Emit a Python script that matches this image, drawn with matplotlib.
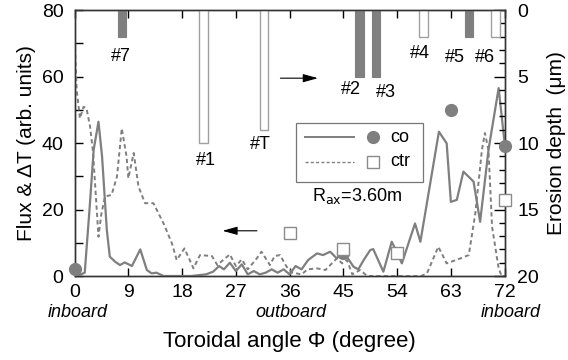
import numpy as np
import matplotlib
matplotlib.use("Agg")
import matplotlib.pyplot as plt

plt.rcParams['font.family'] = ['Liberation Sans', 'DejaVu Sans']

# --- data ---
# flux curves (left axis), toroidal angle in degrees
co_angle = [0, 0.8, 1.7, 2.5, 3.2, 4.0, 4.6, 5.4, 5.9, 6.8, 7.6, 8.4, 9.6, 11.0, 12.1,
            12.9, 13.7, 14.9, 16, 18, 19.5, 21, 22, 23.2, 24.2, 25, 26, 27, 28, 29,
            30, 31, 32, 33, 34, 35, 36, 37, 38, 39.1, 40.6, 41.6, 42.8, 43.9, 45.0,
            46.7, 47.5, 48.4, 49.5, 50.0, 51.7, 53.1, 53.8, 54.8, 57.0, 57.9, 61.0,
            62.3, 63.0, 64.0, 65.1, 66.8, 67.9, 69.3, 71.0, 72]
co_flux = [0, 0.3, 1, 20, 38, 46.4, 36, 13.8, 5.8, 4.3, 3.3, 4.1, 3, 8, 1.8,
           0.8, 1.0, 0, 0, 0, 0, 0.3, 0.5, 1.3, 3, 2, 4, 1.5, 3.5, 0.5,
           1.5, 0.5, 1, 2, 1, 2, 0.5, 3, 2, 4.8, 6.8, 6.3, 7.3, 5.3, 7.3,
           2.8, 2, 4.8, 7.8, 8.1, 1.3, 10.3, 7.8, 3.8, 15.8, 10.3, 43.4,
           39.9, 22.3, 22.9, 31.4, 28.4, 16.3, 37.9, 56.5, 40]

ctr_angle = [0, 0.1, 0.35, 0.9, 1.5, 2.0, 2.6, 3.1, 4.0, 4.5, 5.1, 6.2, 7.1, 7.9, 8.7,
             9.0, 9.9, 10.7, 11.8, 13.2, 14.9, 16.3, 17.1, 18.4, 19.9, 21.0, 23.0,
             23.9, 25, 26, 27, 28, 29, 30.5, 31.3, 32.7, 33.5, 34.4, 35.5, 36.5, 38,
             39, 40.6, 42, 43.9, 44.8, 45.6, 46.5, 47.8, 49, 58, 59.0, 60.9, 62.3,
             64.6, 66.0, 67.1, 68.2, 68.7, 69.3, 69.9, 71.0, 71.5, 72]
ctr_flux = [75.5, 68, 56, 47.4, 50.9, 50.4, 44.9, 37, 11.8, 18.9, 23.9, 24.4, 29.9, 44.4, 36,
            29.4, 37, 26.9, 21.9, 21.9, 15.8, 9.8, 4.8, 8.3, 2.3, 6.3, 6.0,
            3.3, 5, 6.5, 3, 5, 2, 5.3, 7.3, 3.3, 6, 6.3, 2.8, 1, 0.5,
            2, 2.3, 1.8, 5.3, 3.8, 4.8, 0.5, 1.8, 0, 0, 0.8, 8.8, 3.8,
            5.3, 6.3, 18.9, 37.9, 43, 37.9, 14.8, 2.3, 0, 0]

# erosion depth (right axis), measured tiles
bar_co_angle = [7.9, 47.7, 50.5, 66.1]
bar_co_depth = [2, 5, 5, 2]
bar_co_names = ['#7', '#2', '#3', '#5']
bar_ctr_angle = [21.6, 31.7, 58.4, 70.5]
bar_ctr_depth = [10, 9, 2, 2]
bar_ctr_names = ['#1', '#T', '#4', '#6']

# erosion points (right axis)
pt_co_angle = [0, 45, 63, 72]
pt_co_depth = [19.5, 18.3, 7.5, 10.2]
pt_ctr_angle = [36, 45, 54, 72]
pt_ctr_depth = [16.8, 18.0, 18.25, 14.3]

x_ticks = [0, 9, 18, 27, 36, 45, 54, 63, 72]

# --- layout ---
gray = '#7f7f7f'
fig = plt.figure(figsize=(5.68, 3.6), dpi=100)
ax = fig.add_axes([0.1313, 0.2333, 0.7571, 0.7389])
ax2 = ax.twinx()

ax.plot(co_angle, co_flux, color=gray, lw=1.6, zorder=3)
ax.plot(ctr_angle, ctr_flux, color=gray, lw=1.4, ls=(0, (2.2, 1.6)), zorder=3)
ax.set_xlim(0, 72)
ax.set_ylim(0, 80)
ax.set_xticks(x_ticks)
ax.set_yticks([0, 20, 40, 60, 80])
ax.set_yticks([10, 30, 50, 70], minor=True)
ax.tick_params(axis='both', which='both', direction='in', length=6, width=1,
               labelsize=14, top=True)
ax.tick_params(axis='x', pad=6)
ax.tick_params(axis='y', pad=8)
ax.set_ylabel('Flux & \u0394T (arb. units)', fontsize=15, labelpad=4)
ax.set_xlabel('Toroidal angle \u03a6 (degree)', fontsize=16, labelpad=21)

# bars hang from the top (erosion depth axis inverted)
ax2.bar(bar_co_angle, bar_co_depth, width=1.35, color=gray, edgecolor=gray, lw=0.8, zorder=2)
ax2.bar(bar_ctr_angle, bar_ctr_depth, width=1.45, color='white', edgecolor='#a0a0a0',
        lw=1.0, zorder=2)
label_xy = {'#7': (7.8, 3.5), '#1': (22.0, 11.35), '#T': (31.1, 10.1), '#2': (46.2, 6.0),
            '#3': (52.2, 6.2), '#4': (57.8, 3.25), '#5': (63.7, 3.6), '#6': (68.7, 3.6)}
for name in bar_co_names + bar_ctr_names:
    x, y = label_xy[name]
    ax2.text(x, y, name, ha='center', va='center', fontsize=13)

ax2.plot(pt_co_angle, pt_co_depth, 'o', color=gray, ms=8.5, mec=gray, clip_on=False, zorder=5)
ax2.plot(pt_ctr_angle, pt_ctr_depth, 's', mfc='white', mec='#8a8a8a', ms=8.5, mew=1.0,
         clip_on=False, zorder=5)
ax2.set_ylim(20, 0)
ax2.set_yticks([0, 5, 10, 15, 20])
ax2.set_yticks(np.arange(0, 21, 1), minor=True)
ax2.tick_params(axis='y', which='major', direction='in', length=8, width=1, labelsize=14, pad=9)
ax2.tick_params(axis='y', which='minor', direction='in', length=4.5, width=1)
ax2.set_ylabel('Erosion depth  (\u03bcm)', fontsize=15, labelpad=6)

for a in (ax, ax2):
    for s in a.spines.values():
        s.set_linewidth(1.0)
        s.set_color('#333333')

# arrows
ax.annotate('', xy=(41.2, 59.5), xytext=(34.0, 59.5),
            arrowprops=dict(arrowstyle='-|>,head_length=0.9,head_width=0.25', color='black', lw=0.8))
ax.annotate('', xy=(24.3, 13.6), xytext=(31.0, 13.6),
            arrowprops=dict(arrowstyle='-|>,head_length=0.9,head_width=0.25', color='black', lw=0.8))

# hand made legend box
tr = ax.transAxes
ax.add_patch(plt.Rectangle((0.515, 0.353), 0.295, 0.222, transform=tr, fill=False,
                           edgecolor='#777777', lw=0.9, zorder=4))
ax.plot([0.535, 0.65], [0.521, 0.521], color=gray, lw=1.4, transform=tr, zorder=4)
ax.plot([0.693], [0.521], 'o', color=gray, ms=8.5, transform=tr, zorder=4)
ax.text(0.733, 0.521, 'co', transform=tr, fontsize=13, va='center')
ax.plot([0.535, 0.65], [0.43, 0.43], color=gray, lw=1.0, ls=(0, (2.2, 1.6)), transform=tr, zorder=4)
ax.plot([0.693], [0.43], 's', mfc='white', mec='#8a8a8a', ms=8.5, mew=1.0, transform=tr, zorder=4)
ax.text(0.733, 0.43, 'ctr', transform=tr, fontsize=13, va='center')
ax.text(0.553, 0.30, 'R$_{\\rm ax}$=3.60m', transform=tr, fontsize=13, va='center')

# inboard / outboard
ax.text(0.5, -10.9, 'inboard', ha='center', va='center', fontsize=13, style='italic')
ax.text(36.2, -11.1, 'outboard', ha='center', va='center', fontsize=13, style='italic')
ax.text(73.0, -11.1, 'inboard', ha='center', va='center', fontsize=13, style='italic')

fig.savefig('out.png', dpi=100)
